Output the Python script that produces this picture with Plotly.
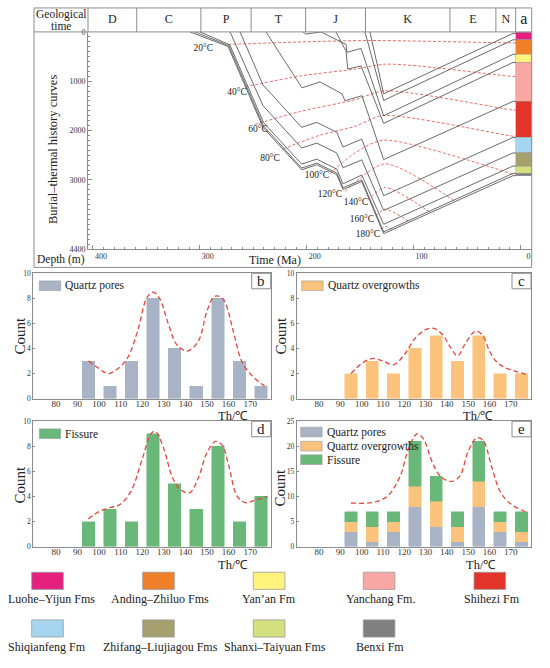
import plotly.graph_objects as go

W, H = 550, 668
FONT = "Liberation Serif"


def px(x):
    return x / W


def py(y):
    return 1 - y / H


# ---------------- panel a : burial-thermal history ----------------
period_names = ["D", "C", "P", "T", "J", "K", "E", "N"]
period_bounds = [404.6, 359, 299, 252, 201, 145, 66, 23, 4.5]   # Ma

strat_names = ["Luohe–Yijun Fms", "Anding–Zhiluo Fms", "Yan’an Fm", "Yanchang Fm.", "Shihezi Fm",
               "Shiqianfeng Fm", "Zhifang–Liujiagou Fms", "Shanxi–Taiyuan Fms", "Benxi Fm"]
strat_colors = ["#E5207F", "#F07F2A", "#FFF37E", "#F8A7A4", "#E3342B",
                "#A6D6EF", "#A6A06E", "#D3E07F", "#808080"]
strat_top = [8, 154, 454, 620, 1408, 2140, 2454, 2720, 2868]      # m
strat_base = [154, 454, 620, 1408, 2140, 2454, 2720, 2868, 2920]  # m

# burial curves (age Ma, depth m)
h1_age = [140.8, 128, 7.0, 4.2]
h1_dep = [0, 1254, 30, 30]
h2_age = [145.5, 128, 7.0, 4.2]
h2_dep = [0, 1388, 160, 160]
h3_age = [203.5, 200.7, 186.6, 163.2, 162.3, 149.2, 128, 7.0, 4.2]
h3_dep = [0, 44, 0, 254, 414, 334, 1700, 454, 454]
h4_age = [172.6, 163.2, 161.6, 149.2, 128, 7.0, 4.2]
h4_dep = [0, 388, 754, 688, 1854, 620, 620]
h5_age = [238.1, 204.4, 187.6, 167.0, 164.2, 148.3, 128, 7.0, 4.2]
h5_dep = [0, 1134, 1014, 1254, 1394, 1294, 2588, 1408, 1408]
h6_age = [262.4, 240.9, 204.7, 190.6, 171.9, 166.0, 148.5, 128, 7.0, 4.2]
h6_dep = [0, 1074, 1934, 1834, 2034, 2334, 2174, 3320, 2140, 2140]
h7_age = [271.7, 240.9, 204.7, 190.6, 171.9, 166.0, 148.5, 128, 7.0, 4.2]
h7_dep = [0, 1494, 2354, 2254, 2454, 2754, 2594, 3620, 2454, 2454]
h8_age = [299.8, 272.0, 240.3, 204.7, 190.6, 171.9, 166.0, 148.5, 128, 7.0, 4.2]
h8_dep = [0, 260, 1840, 2680, 2580, 2780, 3080, 2900, 3900, 2720, 2720]
h9_age = [304.5, 272.8, 240.6, 204.7, 190.6, 171.9, 166.0, 148.5, 128, 7.0, 4.2]
h9_dep = [0, 280, 1900, 2760, 2660, 2860, 3160, 3000, 4054, 2868, 2868]
h10_age = [309.2, 273.6, 240.9, 204.7, 190.6, 171.9, 166.0, 148.5, 128, 7.0, 4.2]
h10_dep = [0, 294, 1934, 2794, 2694, 2894, 3194, 3034, 4090, 2914, 2914]

# isotherms (age Ma, depth m)
iso20_age = [273.6, 206.3, 140.8, 7.0, 4.2]
iso20_dep = [254, 204, 174, 224, 224]
iso40_age = [257.7, 206.3, 154.8, 126.8, 94.0, 7.0, 4.2]
iso40_dep = [1114, 894, 754, 654, 694, 904, 904]
iso60_age = [248.4, 206.3, 154.8, 126.8, 7.0, 4.2]
iso60_dep = [1874, 1614, 1374, 1194, 1584, 1584]
iso80_age = [222.2, 187.6, 154.8, 128.6, 7.0, 4.2]
iso80_dep = [2374, 2094, 1914, 1694, 2114, 2114]
iso100_age = [178.2, 154.8, 128.6, 7.0]
iso100_dep = [2874, 2454, 2194, 2884]
iso120_age = [164.2, 126.8, 61.3]
iso120_dep = [3234, 2674, 3434]
iso140_age = [142.7, 126.8, 84.7]
iso140_dep = [3414, 3154, 3654]
iso160_age = [135.2, 126.8, 103.4]
iso160_dep = [3734, 3594, 3854]
iso180_age = [130.5, 126.3, 120.6]
iso180_dep = [4000, 3940, 4000]

iso_labels = ["20°C", "40°C", "60°C", "80°C", "100°C", "120°C", "140°C", "160°C", "180°C"]
iso_label_age = [296.8, 265.2, 245.6, 234.3, 190.4, 178.2, 153.9, 148.3, 142.7]
iso_label_dep = [334, 1234, 1974, 2574, 2914, 3294, 3454, 3814, 4114]

age_ticks = [400, 300, 200, 100, 0]
depth_ticks = [0, 1000, 2000, 3000, 4400]

# ---------------- histograms ----------------
th_bins = [95, 105, 115, 125, 135, 145, 155, 165, 175]
th_ticks = [80, 90, 100, 110, 120, 130, 140, 150, 160, 170]
quartz_pores = [3, 1, 3, 8, 4, 1, 8, 3, 1]
quartz_overgrowths = [2, 3, 2, 4, 5, 3, 5, 2, 2]
fissure = [2, 3, 2, 9, 5, 3, 8, 2, 4]

b_env_x = [95, 100, 104, 108, 113, 118, 122, 125, 128, 132, 136, 141, 146, 150, 153, 155, 158, 162, 166, 170, 175, 178]
b_env_y = [3, 2.4, 2.0, 2.3, 3.2, 5.5, 8.0, 8.5, 8.0, 6.0, 4.3, 3.8, 4.6, 7.0, 8.1, 8.2, 7.8, 5.5, 3.0, 2.0, 1.2, 0.9]
c_env_x = [95, 100, 105, 110, 115, 120, 125, 130, 134, 138, 142, 145, 148, 152, 154, 157, 160, 163, 167, 172, 178]
c_env_y = [2.0, 2.8, 3.2, 3.0, 2.7, 3.5, 4.8, 5.5, 5.6, 5.1, 4.0, 3.4, 4.2, 5.2, 5.4, 5.0, 3.8, 3.0, 2.5, 2.2, 1.9]
d_env_x = [95, 100, 105, 110, 115, 120, 124, 126, 130, 134, 138, 142, 146, 150, 154, 157, 160, 164, 168, 172, 178]
d_env_y = [2.2, 2.8, 3.1, 3.4, 4.5, 7.0, 9.0, 9.2, 7.8, 5.5, 4.5, 4.3, 5.5, 7.5, 8.4, 8.1, 6.5, 4.0, 3.5, 3.7, 4.0]
e_env_x = [95, 105, 112, 118, 122, 126, 129, 133, 137, 142, 146, 150, 154, 157, 161, 165, 170, 175, 178]
e_env_y = [8.7, 8.8, 10.0, 14.0, 19.5, 22.5, 21.5, 17.0, 14.0, 13.0, 14.0, 19.0, 21.7, 21.2, 16.0, 11.0, 8.5, 7.3, 6.8]

C_QP = "#A8B4C6"
C_QO = "#FBC37C"
C_FI = "#69B87A"
RED = "#E4453D"
GRAY = "#8C8C8C"
LINE = "#5A5A5A"

fig = go.Figure()

# strata column
fig.add_trace(go.Bar(
    x=[-3] * len(strat_top), y=[b - t for t, b in zip(strat_top, strat_base)], base=strat_top,
    width=15, marker=dict(color=strat_colors, line=dict(color="#9a9a9a", width=0.5)),
    xaxis="x", yaxis="y", showlegend=False, hoverinfo="skip"))

# isotherms
for a, d in [(iso20_age, iso20_dep), (iso40_age, iso40_dep), (iso60_age, iso60_dep), (iso80_age, iso80_dep),
             (iso100_age, iso100_dep), (iso120_age, iso120_dep), (iso140_age, iso140_dep),
             (iso160_age, iso160_dep), (iso180_age, iso180_dep)]:
    fig.add_trace(go.Scatter(x=a, y=d, mode="lines", line=dict(color=RED, width=0.8, dash="3px,2px",
                                                                 shape="spline", smoothing=0.7),
                             xaxis="x", yaxis="y", showlegend=False, hoverinfo="skip"))

# burial curves
for a, d in [(h1_age, h1_dep), (h2_age, h2_dep), (h3_age, h3_dep), (h4_age, h4_dep), (h5_age, h5_dep),
             (h6_age, h6_dep), (h7_age, h7_dep), (h8_age, h8_dep), (h9_age, h9_dep), (h10_age, h10_dep)]:
    fig.add_trace(go.Scatter(x=a, y=d, mode="lines", line=dict(color=LINE, width=0.9),
                             xaxis="x", yaxis="y", showlegend=False, hoverinfo="skip"))

# isotherm labels
fig.add_trace(go.Scatter(x=iso_label_age, y=iso_label_dep, mode="text", text=iso_labels,
                         textfont=dict(family=FONT, size=9.5, color="#222"),
                         xaxis="x", yaxis="y", showlegend=False, hoverinfo="skip"))

# header: period dividers and names
div_x, div_y = [], []
for b in period_bounds[1:]:
    div_x += [b, b, None]
    div_y += [0, 1, None]
fig.add_trace(go.Scatter(x=div_x, y=div_y, mode="lines", line=dict(color=GRAY, width=1),
                         xaxis="x2", yaxis="y2", showlegend=False, hoverinfo="skip"))
mids = [(period_bounds[i] + period_bounds[i + 1]) / 2 for i in range(len(period_names))]
fig.add_trace(go.Scatter(x=mids + [-3], y=[0.5] * (len(mids) + 1), mode="text",
                         text=period_names + ["a"],
                         textfont=dict(family=FONT, size=[12] * len(mids) + [16], color="#222"),
                         xaxis="x2", yaxis="y2", showlegend=False, hoverinfo="skip"))


# histograms
def bars(vals, color, xa, ya):
    return go.Bar(x=th_bins, y=vals, width=5.8, marker=dict(color=color, line=dict(color=color, width=0.5)),
                  xaxis=xa, yaxis=ya, showlegend=False, hoverinfo="skip")


def env(xs, ys, xa, ya):
    return go.Scatter(x=xs, y=ys, mode="lines", line=dict(color=RED, width=1.3, dash="5px,3px",
                                                           shape="spline", smoothing=1.0),
                      xaxis=xa, yaxis=ya, showlegend=False, hoverinfo="skip")


fig.add_trace(bars(quartz_pores, C_QP, "x3", "y3"))
fig.add_trace(env(b_env_x, b_env_y, "x3", "y3"))
fig.add_trace(bars(quartz_overgrowths, C_QO, "x4", "y4"))
fig.add_trace(env(c_env_x, c_env_y, "x4", "y4"))
fig.add_trace(bars(fissure, C_FI, "x5", "y5"))
fig.add_trace(env(d_env_x, d_env_y, "x5", "y5"))
fig.add_trace(bars(quartz_pores, C_QP, "x6", "y6"))
fig.add_trace(bars(quartz_overgrowths, C_QO, "x6", "y6"))
fig.add_trace(bars(fissure, C_FI, "x6", "y6"))
fig.add_trace(env(e_env_x, e_env_y, "x6", "y6"))

tickf = dict(family=FONT, size=8, color="#333")
axis_common = dict(showgrid=False, zeroline=False, showline=True, linecolor=GRAY, linewidth=1)

layout = dict(
    width=W, height=H, margin=dict(l=0, r=0, t=0, b=0),
    paper_bgcolor="white", plot_bgcolor="white", barmode="stack",
    font=dict(family=FONT, color="#222"),
    xaxis=dict(domain=[px(88), px(531.7)], range=[404.6, -10.5], anchor="y", tickvals=age_ticks,
               ticks="inside", ticklen=4, tickcolor=GRAY, tickfont=tickf,
               ticklabelstandoff=-1, ticklabelshift=-8,
               minor=dict(dtick=10, tick0=0, ticklen=2, ticks="inside", tickcolor=GRAY), **axis_common),
    yaxis=dict(domain=[py(248.3), py(28.3)], range=[4400, 0], anchor="x", tickvals=depth_ticks,
               ticks="inside", ticklen=4, tickcolor=GRAY, tickfont=tickf,
               minor=dict(dtick=100, tick0=0, ticklen=2, ticks="inside", tickcolor=GRAY), **axis_common),
    xaxis2=dict(domain=[px(88), px(531.7)], matches="x", anchor="y2", visible=False),
    yaxis2=dict(domain=[py(28.3), py(4)], range=[0, 1], anchor="x2", visible=False),
)

hist_x_left = [px(33.3), px(270.7)]
hist_x_right = [px(296.7), px(531)]
hist_y_top = [py(400), py(273)]
hist_y_bot = [py(550), py(423)]
for i, (xd, yd, yr, yt) in enumerate([(hist_x_left, hist_y_top, 10, [0, 2, 4, 6, 8, 10]),
                                      (hist_x_right, hist_y_top, 10, [0, 2, 4, 6, 8, 10]),
                                      (hist_x_left, hist_y_bot, 10, [0, 2, 4, 6, 8, 10]),
                                      (hist_x_right, hist_y_bot, 25, [0, 5, 10, 15, 20, 25])]):
    n = i + 3
    layout[f"xaxis{n}"] = dict(domain=xd, range=[69.5, 179.5], anchor=f"y{n}", tickvals=th_ticks,
                               ticks="", mirror=True, ticklabelstandoff=-3,
                               tickfont=dict(family=FONT, size=9, color="#333"),
                               **axis_common)
    layout[f"yaxis{n}"] = dict(domain=yd, range=[0, yr], anchor=f"x{n}", tickvals=yt, ticks="inside",
                               ticklen=2, tickcolor=GRAY, mirror=True,
                               tickfont=dict(family=FONT, size=7.5, color="#333"), **axis_common)

fig.update_layout(**layout)

shapes = []
ann = []


def rect(x0, y0, x1, y1, fill=None, color=GRAY, width=1):
    shapes.append(dict(type="rect", xref="paper", yref="paper", x0=px(x0), x1=px(x1), y0=py(y1), y1=py(y0),
                       line=dict(color=color, width=width), fillcolor=fill if fill else "rgba(0,0,0,0)",
                       layer="above"))


def line(x0, y0, x1, y1, color=GRAY, width=1):
    shapes.append(dict(type="line", xref="paper", yref="paper", x0=px(x0), x1=px(x1), y0=py(y0), y1=py(y1),
                       line=dict(color=color, width=width), layer="above"))


def text(x, y, s, size=12, angle=0, xanchor="center"):
    ann.append(dict(x=px(x), y=py(y), xref="paper", yref="paper", text=s, showarrow=False,
                    font=dict(family=FONT, size=size, color="#222"), textangle=angle,
                    xanchor=xanchor, yanchor="middle"))


# panel a frame
rect(34, 4, 531.7, 267)
line(34, 28.3, 531.7, 28.3)
line(88, 4, 88, 28.3)
text(61, 10.5, "Geological", 11.5)
text(61, 22, "time", 11.5)
text(53, 148, "Burial–thermal history curves", 12.5, angle=-90)
text(61, 259, "Depth (m)", 11.5)
text(275, 259, "Time (Ma)", 12)

# histogram panel letters, legends, labels
for (x0, y0, letter) in [(251.7, 273, "b"), (512, 273, "c"), (251.7, 423, "d"), (512, 423, "e")]:
    rect(x0, y0, x0 + 19, y0 + 15.7, fill="white")
    text(x0 + 9.5, y0 + 8, letter, 15)

for (x0, y0, col, lab) in [(39.3, 280.7, C_QP, "Quartz pores"), (301.7, 280.7, C_QO, "Quartz overgrowths"),
                           (39.3, 430.7, C_FI, "Fissure"), (300.7, 429, C_QP, "Quartz pores"),
                           (300.7, 443.3, C_QO, "Quartz overgrowths"), (300.7, 457, C_FI, "Fissure")]:
    rect(x0, y0, x0 + 21.4, y0 + 9.8, fill=col, color="#9a9a9a", width=0.6)
    text(x0 + 24, y0 + 5, lab, 11.5, xanchor="left")

for (x, y) in [(20, 336), (281, 336), (20, 487), (280, 490)]:
    text(x, y, "Count", 15, angle=-90)
for (x, y) in [(233, 418), (478, 418), (233, 569), (481, 569)]:
    text(x, y, "Th/℃", 12.5)

# bottom legend of formations
leg_x = [31.7, 142.7, 253.3, 363.3, 474, 31.7, 142.7, 253.3, 363.3]
leg_y = [576, 576, 576, 576, 576, 624.3, 624.3, 624.3, 624.3]
leg_tx = [51.7, 160, 269.3, 380, 491.7, 46.7, 160, 275, 380]
for i in range(9):
    rect(leg_x[i], leg_y[i], leg_x[i] + 31.6, leg_y[i] + 17.4, fill=strat_colors[i], color="#9a9a9a", width=0.8)
    text(leg_tx[i], leg_y[i] + 27.5, strat_names[i], 12)

fig.update_layout(shapes=shapes, annotations=ann)
fig.write_html("out.html", config={"displayModeBar": False},
               post_script="document.body.style.margin='0';document.body.style.overflow='hidden';")
